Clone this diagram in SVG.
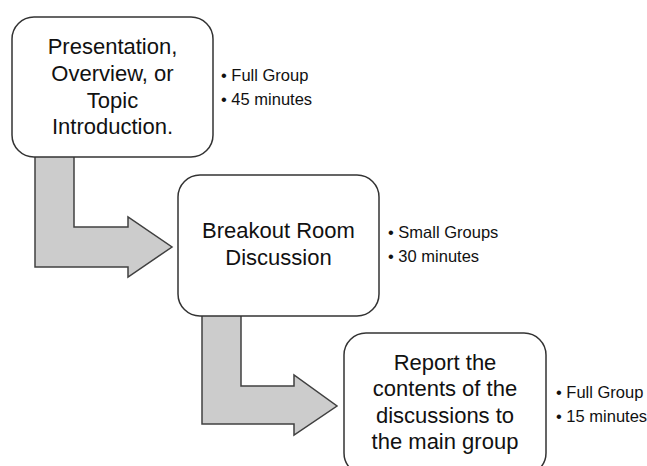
<svg xmlns="http://www.w3.org/2000/svg" width="647" height="466" viewBox="0 0 647 466">
<style>
.box{fill:#ffffff;stroke:#333333;stroke-width:1.5}
.arr{fill:#cccccc;stroke:#404040;stroke-width:1.5;stroke-linejoin:miter}
.t{font-family:"Liberation Sans",Arial,sans-serif;font-size:22px;fill:#111111;text-anchor:middle}
.b{font-family:"Liberation Sans",Arial,sans-serif;font-size:16.5px;fill:#111111}
</style>
<rect width="647" height="466" fill="#ffffff"/>
<g id="connectors">
<polygon class="arr" points="35,150 74,150 74,227 128,227 128,217 172,247 128,277 128,267 35,267"/>
<polygon class="arr" points="202,310 241,310 241,386 294,386 294,375 337,406 294,435 294,424 202,424"/>
</g>
<g id="node1">
<rect class="box" x="12" y="17" width="201" height="140" rx="22"/>
<text class="t" x="112.5" y="54">Presentation,</text>
<text class="t" x="112.5" y="81">Overview, or</text>
<text class="t" x="112.5" y="108">Topic</text>
<text class="t" x="112.5" y="134">Introduction.</text>
</g>
<g id="notes1">
<text class="b" x="221" y="81">• Full Group</text>
<text class="b" x="221" y="105">• 45 minutes</text>
</g>
<g id="node2">
<rect class="box" x="178" y="175" width="201" height="141" rx="22"/>
<text class="t" x="278.5" y="238">Breakout Room</text>
<text class="t" x="278.5" y="265">Discussion</text>
</g>
<g id="notes2">
<text class="b" x="388" y="238">• Small Groups</text>
<text class="b" x="388" y="262">• 30 minutes</text>
</g>
<g id="node3">
<rect class="box" x="344" y="333" width="202" height="142" rx="22"/>
<text class="t" x="445" y="370">Report the</text>
<text class="t" x="445" y="396">contents of the</text>
<text class="t" x="445" y="423">discussions to</text>
<text class="t" x="445" y="449">the main group</text>
</g>
<g id="notes3">
<text class="b" x="556" y="398">• Full Group</text>
<text class="b" x="556" y="422">• 15 minutes</text>
</g>
</svg>
